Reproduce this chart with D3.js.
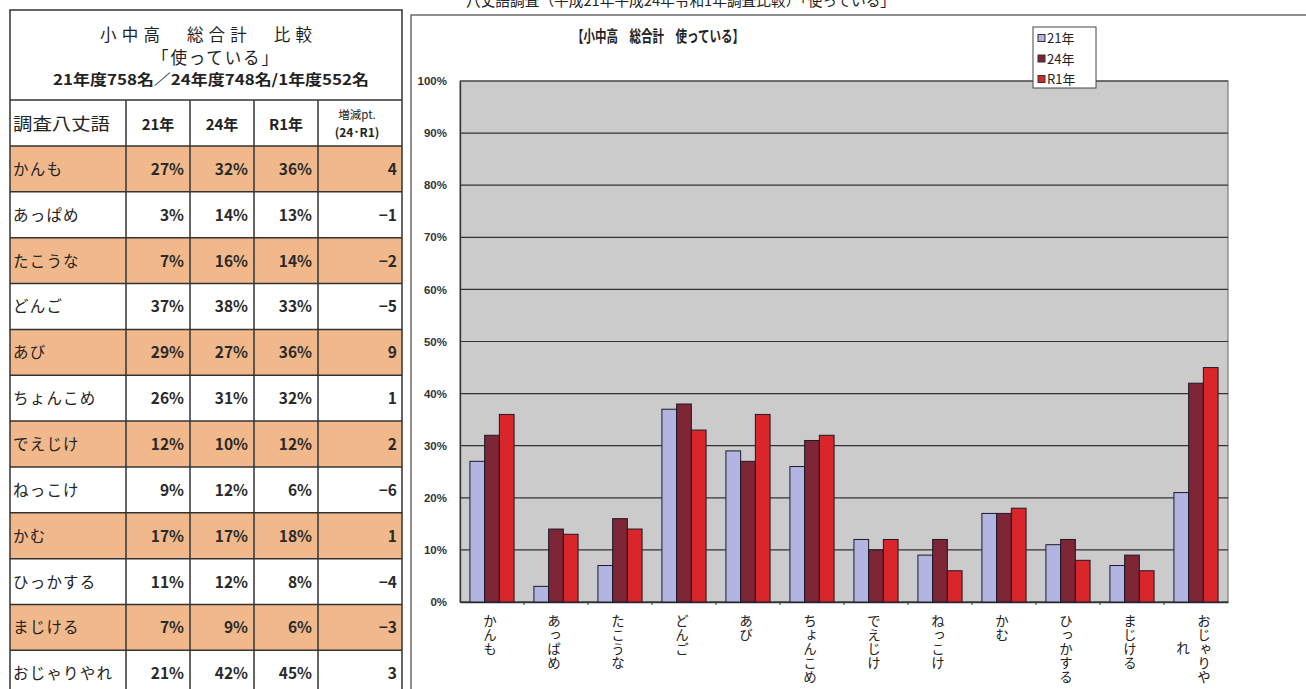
<!DOCTYPE html>
<html><head><meta charset="utf-8">
<script src="https://cdn.jsdelivr.net/npm/d3@7"></script>
<style>
html,body{margin:0;padding:0;background:#fff;}
svg{display:block;font-family:"Noto Sans CJK JP","Noto Sans",sans-serif;}
</style></head>
<body>
<svg id="c" width="1306" height="689"></svg>
<script>
// ---- data ----
const categories = ["かんも","あっぱめ","たこうな","どんご","あび","ちょんこめ","でえじけ","ねっこけ","かむ","ひっかする","まじける","おじゃりやれ"];
const seriesNames = ["21年","24年","R1年"];
const tableHeaders = ["調査八丈語","21年","24年","R1年"];
const v21 = [27,3,7,37,29,26,12,9,17,11,7,21];
const v24 = [32,14,16,38,27,31,10,12,17,12,9,42];
const vR1 = [36,13,14,33,36,32,12,6,18,8,6,45];
const diffs = [4,-1,-2,-5,9,1,2,-6,1,-4,-3,3];
const yTicks = [0,10,20,30,40,50,60,70,80,90,100];
const pageTitle = "八丈語調査（平成21年平成24年令和1年調査比較）「使っている」";
const tableTitle = ["小中高　総合計　比較","「使っている」","21年度758名／24年度748名/1年度552名"];
const chartTitle = "【小中高　総合計　使っている】";

const colors = ["#b3b5e0","#7e2536","#d9262b"];
const svg = d3.select("#c");

// ---- page title (clipped at top, as in the scan) ----
svg.append("text").attr("x",466).attr("y",6).attr("font-size",14.5).attr("fill","#222")
  .attr("textLength",429).attr("lengthAdjust","spacingAndGlyphs").text(pageTitle);

// ---- table ----
const T = {x0:10, x1:402, top:10, headTop:100, rowsTop:146, rowH:45.85};
const colX = [10,126,190,254,318,402];
const tg = svg.append("g");
const rows = categories.map((c,i)=>({name:c,a:v21[i],b:v24[i],c:vR1[i],d:diffs[i],i}));
tg.selectAll("rect.row").data(rows).join("rect")
  .attr("x",T.x0).attr("width",T.x1-T.x0)
  .attr("y",d=>T.rowsTop+d.i*T.rowH).attr("height",T.rowH)
  .attr("fill",d=>d.i%2===0?"#f1b98b":"#fff");
// title text
tg.append("text").attr("x",206).attr("y",40.5).attr("text-anchor","middle").attr("font-size",16.5).attr("fill","#1e1e1e")
  .attr("textLength",212).attr("lengthAdjust","spacing").text(tableTitle[0]);
tg.append("text").attr("x",215).attr("y",64).attr("text-anchor","middle").attr("font-size",16.5).attr("fill","#1e1e1e")
  .attr("textLength",126).attr("lengthAdjust","spacing").text(tableTitle[1]);
tg.append("text").attr("x",211).attr("y",85).attr("text-anchor","middle").attr("font-size",14.5).attr("font-weight",700).attr("fill","#222")
  .attr("textLength",316).attr("lengthAdjust","spacingAndGlyphs").text(tableTitle[2]);
// header
const hy = 130;
tg.append("text").attr("x",13).attr("y",hy).attr("font-size",17).attr("fill","#222")
  .attr("textLength",97).attr("lengthAdjust","spacingAndGlyphs").text(tableHeaders[0]);
[1,2,3].forEach(k=>{
  tg.append("text").attr("x",(colX[k]+colX[k+1])/2).attr("y",hy).attr("text-anchor","middle")
    .attr("font-size",15).attr("font-weight",700).attr("fill","#222").text(tableHeaders[k]);
});
tg.append("text").attr("x",357).attr("y",119).attr("text-anchor","middle").attr("font-size",11.5).attr("fill","#222").text("増減pt.");
tg.append("text").attr("x",357).attr("y",137).attr("text-anchor","middle").attr("font-size",12).attr("font-weight",700).attr("fill","#222").text("(24･R1)");
// row text
const rowG = tg.selectAll("g.r").data(rows).join("g").attr("transform",d=>`translate(0,${T.rowsTop+d.i*T.rowH+T.rowH/2+6})`);
rowG.append("text").attr("x",13).attr("font-size",15.5).attr("letter-spacing",1.2).attr("fill","#222").text(d=>d.name);
const fmtPct = v=>v+"%";
const numAttrs = s=>s.attr("text-anchor","end").attr("font-size",15.5).attr("font-weight",700).attr("fill","#2a2a2a");
rowG.append("text").attr("x",colX[2]-6).call(numAttrs).text(d=>fmtPct(d.a));
rowG.append("text").attr("x",colX[3]-6).call(numAttrs).text(d=>fmtPct(d.b));
rowG.append("text").attr("x",colX[4]-6).call(numAttrs).text(d=>fmtPct(d.c));
rowG.append("text").attr("x",colX[5]-5).call(numAttrs).text(d=>d.d<0?"−"+Math.abs(d.d):d.d);
// grid lines
const lineC = "#333";
tg.append("rect").attr("x",T.x0).attr("y",T.top).attr("width",T.x1-T.x0).attr("height",700).attr("fill","none").attr("stroke",lineC).attr("stroke-width",1.5);
tg.append("line").attr("x1",T.x0).attr("x2",T.x1).attr("y1",T.headTop).attr("y2",T.headTop).attr("stroke",lineC).attr("stroke-width",1.5);
d3.range(0,13).forEach(i=>{
  const y=T.rowsTop+i*T.rowH;
  tg.append("line").attr("x1",T.x0).attr("x2",T.x1).attr("y1",y).attr("y2",y).attr("stroke",lineC).attr("stroke-width",1.5);
});
colX.slice(1,5).forEach(x=>{
  tg.append("line").attr("x1",x).attr("x2",x).attr("y1",T.headTop).attr("y2",689).attr("stroke",lineC).attr("stroke-width",1.5);
});

// ---- chart frame ----
svg.append("rect").attr("x",411).attr("y",15).attr("width",900).attr("height",700).attr("fill","#fff").attr("stroke","#555").attr("stroke-width",1.3);
svg.append("text").attr("x",658).attr("y",42).attr("text-anchor","middle").attr("font-size",15.5).attr("font-weight",700).attr("fill","#222")
  .attr("textLength",172).attr("lengthAdjust","spacingAndGlyphs").text(chartTitle);

const P = {l:460, r:1228, t:81, b:602};
const x = d3.scaleBand().domain(categories).range([P.l,P.r]).paddingInner(0.31).paddingOuter(0.155);
const xs = d3.scaleBand().domain(seriesNames).range([0,x.bandwidth()]);
const y = d3.scaleLinear().domain([0,100]).range([P.b,P.t]);

svg.append("rect").attr("x",P.l).attr("y",P.t).attr("width",P.r-P.l).attr("height",P.b-P.t).attr("fill","#cbcbcb").attr("stroke","#666");
svg.append("g").selectAll("line").data(yTicks).join("line")
  .attr("x1",P.l).attr("x2",P.r).attr("y1",d=>y(d)).attr("y2",d=>y(d))
  .attr("stroke","#333").attr("stroke-width",1.2);
const yAxis = svg.append("g").attr("transform",`translate(${P.l},0)`)
  .call(d3.axisLeft(y).tickValues(yTicks).tickSize(0).tickPadding(13).tickFormat(d=>d+"%"));
yAxis.select(".domain").attr("stroke","#333").attr("stroke-width",1.3);
yAxis.selectAll("text").attr("font-family","'Liberation Sans',Arial,sans-serif").attr("font-size",11.5).attr("font-weight",700).attr("fill","#333");
const xAxis = svg.append("g").attr("transform",`translate(0,${P.b})`)
  .call(d3.axisBottom(x).tickSize(0).tickFormat(""));
xAxis.select(".domain").attr("stroke","#333").attr("stroke-width",1.3);
const step = x.step();
svg.append("g").selectAll("line").data(categories.slice(1)).join("line")
  .attr("x1",d=>x(d)-(step-x.bandwidth())/2).attr("x2",d=>x(d)-(step-x.bandwidth())/2)
  .attr("y1",P.b).attr("y2",P.b+3).attr("stroke","#333");

// bars
const seriesVals = [v21,v24,vR1];
const barData = [];
categories.forEach((c,i)=>seriesNames.forEach((s,k)=>barData.push({c,s,k,v:seriesVals[k][i]})));
svg.append("g").selectAll("rect").data(barData).join("rect")
  .attr("x",d=>x(d.c)+xs(d.s)).attr("width",xs.bandwidth())
  .attr("y",d=>y(d.v)).attr("height",d=>P.b-y(d.v))
  .attr("fill",d=>colors[d.k]).attr("stroke","#1a1a2a").attr("stroke-width",1);

// x labels (vertical, one glyph per step)
const labG = svg.append("g");
const chStep = 14;
function vcol(str, cx, y0){
  Array.from(str).forEach((ch,j)=>{
    labG.append("text").attr("x",cx).attr("y",y0+j*chStep).attr("font-size",13.5).attr("fill","#222")
      .style("writing-mode","vertical-rl").style("text-orientation","upright").text(ch);
  });
}
categories.forEach((c)=>{
  const cx = x(c)+x.bandwidth()/2;
  if(c.length>5){
    vcol(c.slice(0,5), cx+8, 614);
    labG.append("text").attr("x",cx-13).attr("y",614+2*chStep+11).attr("text-anchor","middle")
      .attr("font-size",13.5).attr("fill","#222").text(c.slice(5));
  } else {
    vcol(c, cx-2, 614);
  }
});

// legend
const L = svg.append("g");
L.append("rect").attr("x",1033).attr("y",27).attr("width",63).attr("height",61).attr("fill","#fff").attr("stroke","#444");
seriesNames.forEach((s,k)=>{
  const ly = 38+k*20.5;
  L.append("rect").attr("x",1038).attr("y",ly-3.5).attr("width",7).attr("height",7).attr("fill",colors[k]).attr("stroke","#333").attr("stroke-width",1);
  L.append("text").attr("x",1047).attr("y",ly+5).attr("font-size",13).attr("fill","#222").text(s);
});
</script>
</body></html>
